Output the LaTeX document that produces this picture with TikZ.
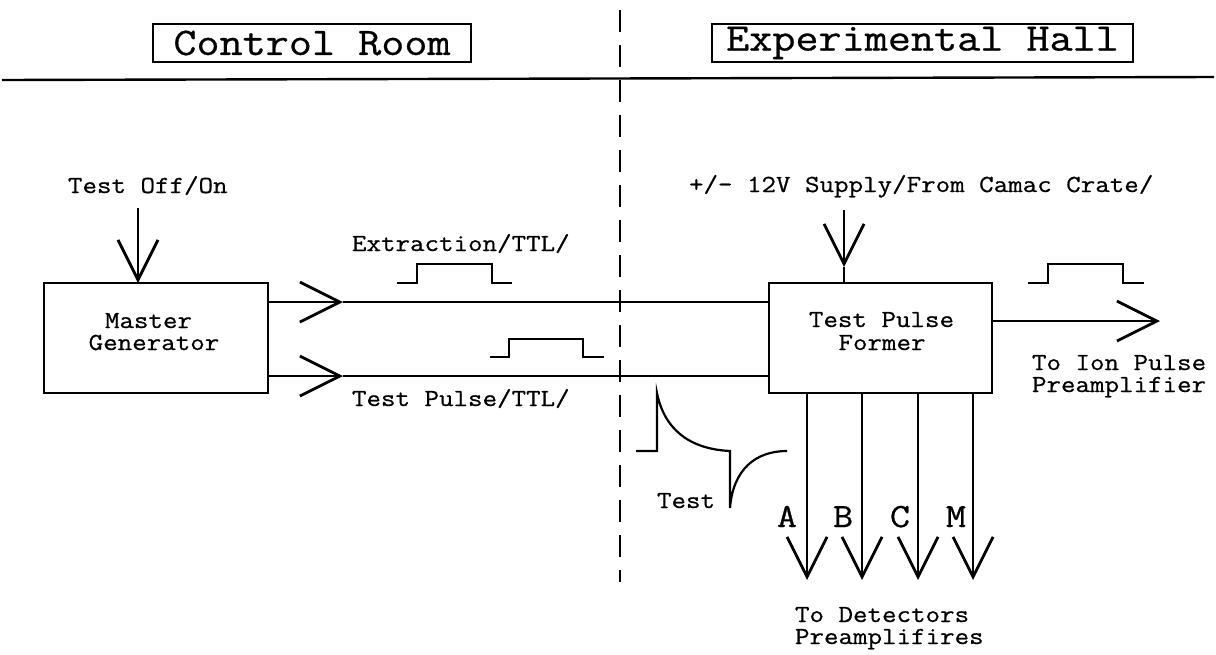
\documentclass[tikz,border=0pt]{standalone}
\usepackage{fontspec}
\setmonofont{Latin Modern Mono}[FakeStretch=1.15,FakeBold=0.7]
\usetikzlibrary{arrows.meta}
\newcommand\hdrfont{\ttfamily\fontsize{19.5}{23}\selectfont}
\newcommand\smfont{\ttfamily\fontsize{12.25}{11}\selectfont}
\newcommand\chfont{\ttfamily\fontsize{17}{20}\selectfont}
\begin{document}
\begin{tikzpicture}[x=0.5pt,y=-0.5pt,line width=1.2pt,
  every node/.style={inner sep=0pt,outer sep=0pt},
  hdr/.style={draw,font=\hdrfont,minimum height=19pt},
  blk/.style={draw,minimum width=112pt,minimum height=55pt},
  sm/.style={font=\smfont},
  ch/.style={font=\chfont,anchor=base},
  vee/.style={-{Straight Barb[length=20pt,width=20pt,line width=1.4pt]}},
  sep/.style={dash pattern=on 11pt off 6.5pt},
  pulse/.style={line width=1.1pt}]
\useasboundingbox (0,0) rectangle (1216,654);

% section headings and dividing lines
\node[hdr,minimum width=159pt] (cr) at (312,43) {Control Room};
\node[hdr,minimum width=210.5pt] (eh) at (922.5,43) {Experimental Hall};
\coordinate (hl) at (2,80);
\coordinate (hr) at (1214,77);
\draw (hl) -- (hr);
\coordinate (dt) at (620,10);
\coordinate (db) at (620,582);
\draw[sep] (dt) -- (db);

% blocks
\node[blk] (mg) at (156,338) {};
\node[sm,anchor=base] (mg1) at (148.5,328) {Master};
\node[sm,anchor=base] (mg2) at (154,350) {Generator};
\node[blk,minimum width=111.5pt] (tpf) at (880.5,338) {};
\node[sm,anchor=base] (tp1) at (881.5,327) {Test Pulse};
\node[sm,anchor=base] (tp2) at (882,350) {Former};

% test switch input
\node[sm,anchor=base west] (ton) at (68,193) {Test Off/On};
\coordinate (tons) at (138,208);
\draw[vee] (tons) -- (tons |- mg.north);

% extraction and test pulse lines
\coordinate (xa) at (343,302);
\coordinate (xb) at (343,376);
\draw[vee] (mg.east |- xa) -- (xa);
\draw (xa) -- (tpf.west |- xa);
\draw[vee] (mg.east |- xb) -- (xb);
\draw (xb) -- (tpf.west |- xb);
\node[sm,anchor=base west] (lx) at (352,251) {Extraction/TTL/};
\node[sm,anchor=base west] (lt) at (352,406) {Test Pulse/TTL/};
\draw[pulse] (397,283) -- (417,283) -- (417,264) -- (492,264) -- (492,283) -- (512,283);
\draw[pulse] (490,357) -- (509,357) -- (509,339) -- (583,339) -- (583,357) -- (604,357);

% supply input
\node[sm,anchor=base west] (sup) at (689,192) {+/- 12V Supply/From Camac Crate/};
\coordinate (s0) at (844,210);
\coordinate (s1) at (844,267);
\draw[vee] (s0) -- (s1);
\draw (s1) -- (s1 |- tpf.north);

% ion pulse output
\coordinate (io) at (1160,321);
\draw[vee] (tpf.east |- io) -- (io);
\draw[pulse] (1028,283) -- (1048,283) -- (1048,264) -- (1123,264) -- (1123,283) -- (1144,283);
\node[sm,anchor=base west] (io1) at (1032,370) {To Ion Pulse};
\node[sm,anchor=base west] (io2) at (1032,392) {Preamplifier};

% detector outputs
\coordinate (oa) at (807,580);
\coordinate (ob) at (862,580);
\coordinate (oc) at (918,580);
\coordinate (om) at (973,580);
\foreach \o in {oa,ob,oc,om}
  \draw[vee] (\o |- tpf.south) -- (\o);
\node[ch] (la) at (787,527) {A};
\node[ch] (lb) at (843,527) {B};
\node[ch] (lc) at (900,527) {C};
\node[ch] (lm) at (956,527) {M};
\node[sm,anchor=base west] (td1) at (795,622) {To Detectors};
\node[sm,anchor=base west] (td2) at (795,644) {Preamplifires};

% shape of the test signal
\draw[pulse] (636,451) -- (657,451) -- (657,393)
  .. controls (664,428) and (688,449) .. (730,451) -- (730,508)
  .. controls (733,470) and (755,451) .. (787,451);
\node[sm,anchor=base west] (tst) at (657,508) {Test};
\end{tikzpicture}
\end{document}
